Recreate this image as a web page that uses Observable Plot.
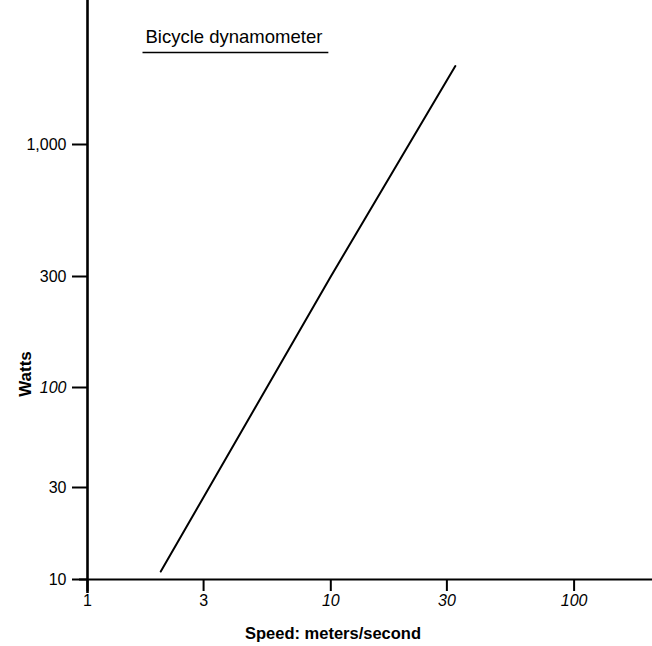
<!DOCTYPE html>
<html>
<head>
<meta charset="utf-8">
<script src="https://cdn.jsdelivr.net/npm/d3@7"></script>
<script src="https://cdn.jsdelivr.net/npm/@observablehq/plot@0.6"></script>
<style>
  html, body { margin: 0; padding: 0; background: white; }
</style>
</head>
<body>
<div id="chart"></div>
<script>
// Data
const speed = [2, 10, 32.5];          // meters/second
const watts = [11, 300, 2100];        // watts
const xTicks = [1, 3, 10, 30, 100];
const yTicks = [10, 30, 100, 300, 1000];
const title = "Bicycle dynamometer";
const xLabel = "Speed: meters/second";
const yLabel = "Watts";
const italicX = ["10", "30", "100"];
const italicY = ["100"];

const data = speed.map((s, i) => ({speed: s, watts: watts[i]}));
const font = "'Liberation Sans', Arial, Helvetica, sans-serif";

const chart = Plot.plot({
  width: 652,
  height: 646,
  marginLeft: 87,
  marginRight: 0,
  marginTop: 0,
  marginBottom: 67,
  style: {fontFamily: font, fontSize: "16px", color: "black", background: "white", overflow: "visible"},
  x: {type: "log", domain: [1, 210]},
  y: {type: "log", domain: [10, 30, 100, 300, 1000, 3900], range: [579, 487, 387, 276, 144, 0]},
  marks: [
    Plot.axisY({ticks: yTicks, tickFormat: d3.format(","), tickSize: 15, tickPadding: 6, label: null, strokeWidth: 2, fontSize: 16}),
    Plot.axisX({ticks: xTicks, tickFormat: d => String(d), tickSize: 12, tickPadding: 3, label: null, strokeWidth: 2, fontSize: 16}),
    Plot.ruleX([1], {stroke: "black", strokeWidth: 2.6, insetBottom: -14}),
    Plot.ruleY([10], {stroke: "black", strokeWidth: 2.2, insetLeft: -8}),
    Plot.line(data, {x: "speed", y: "watts", stroke: "black", strokeWidth: 2}),
    Plot.text([title], {frameAnchor: "top-left", dx: 58, dy: 42, textAnchor: "start", lineAnchor: "bottom", fontSize: 18.5, fill: "black", className: "title-text"}),
    Plot.text([yLabel], {frameAnchor: "left", dx: -62, dy: 84, rotate: -90, textAnchor: "middle", lineAnchor: "middle", fontSize: 17, fontWeight: "bold", fill: "black"}),
    Plot.text([xLabel], {frameAnchor: "bottom", dx: -37, dy: 54, textAnchor: "middle", lineAnchor: "middle", fontSize: 16.5, fontWeight: "bold", fill: "black"})
  ]
});

document.getElementById("chart").appendChild(chart);

// Tick label styling as in the reference
chart.querySelectorAll('[aria-label="x-axis tick label"] text').forEach(t => {
  t.style.fontSize = "16px";
  if (italicX.includes(t.textContent.trim())) t.style.fontStyle = "italic";
});
chart.querySelectorAll('[aria-label="y-axis tick label"] text').forEach(t => {
  t.style.fontSize = "16px";
  if (italicY.includes(t.textContent.trim())) t.style.fontStyle = "italic";
});

// Underline below the title
const tt = chart.querySelector(".title-text text");
if (tt) {
  const bb = tt.getBBox();
  const ctm = tt.getCTM();
  const svgCtm = chart.getCTM ? chart.getCTM() : null;
  const pt = chart.createSVGPoint();
  pt.x = bb.x; pt.y = bb.y + bb.height;
  const m = svgCtm ? svgCtm.inverse().multiply(ctm) : ctm;
  const p1 = pt.matrixTransform(m);
  pt.x = bb.x + bb.width;
  const p2 = pt.matrixTransform(m);
  const line = document.createElementNS("http://www.w3.org/2000/svg", "line");
  line.setAttribute("x1", p1.x - 3);
  line.setAttribute("x2", p2.x + 6);
  line.setAttribute("y1", p1.y + 6);
  line.setAttribute("y2", p1.y + 6);
  line.setAttribute("stroke", "black");
  line.setAttribute("stroke-width", 1.6);
  chart.appendChild(line);
}
</script>
</body>
</html>
